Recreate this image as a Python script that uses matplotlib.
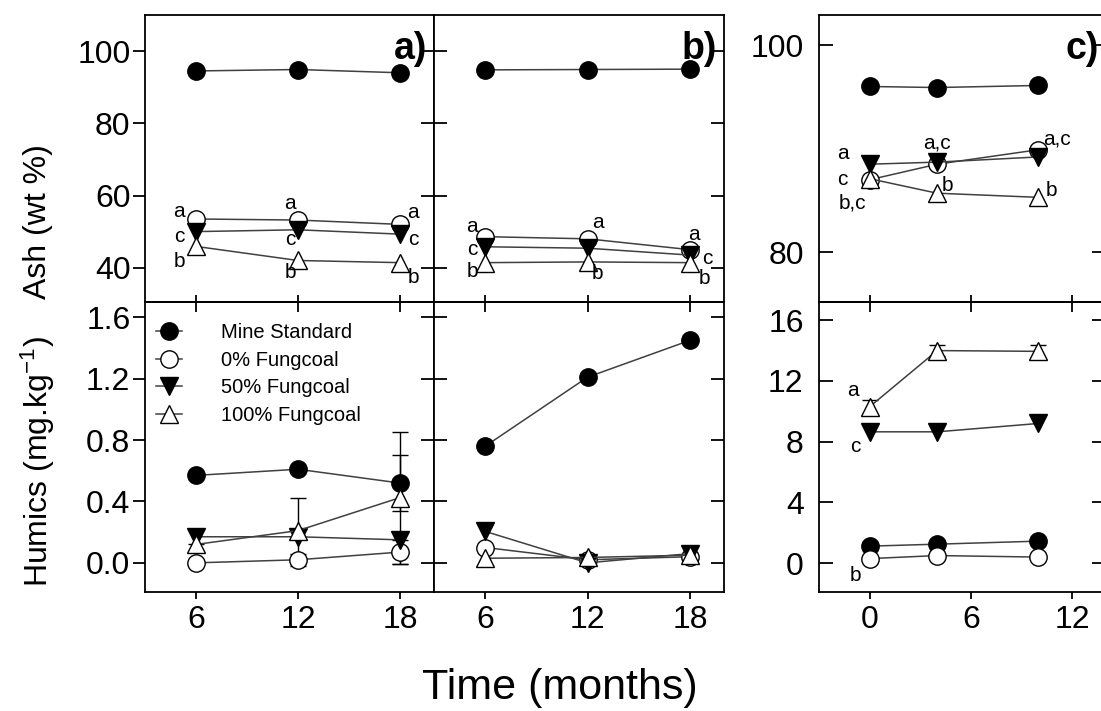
import matplotlib
matplotlib.use('Agg')
import matplotlib.pyplot as plt

plt.rcParams['font.family'] = ['Liberation Sans', 'DejaVu Sans']
plt.rcParams['mathtext.fontset'] = 'custom'
plt.rcParams['mathtext.rm'] = 'Liberation Sans'
plt.rcParams['mathtext.default'] = 'regular'

# series order: Mine Standard, 0%, 50%, 100% Fungcoal
series_names = ['Mine Standard', '0% Fungcoal', '50% Fungcoal', '100% Fungcoal']
time_ab = [6, 12, 18]
time_c = [0, 4, 10]

ash_a = [[94.5, 94.9, 94.0], [53.5, 53.2, 52.0], [50.0, 50.5, 49.3], [45.9, 42.0, 41.4]]
ash_b = [[94.8, 94.9, 95.0], [48.6, 48.0, 45.0], [45.8, 45.4, 43.5], [41.4, 41.6, 41.4]]
ash_c = [[96.0, 95.9, 96.1], [87.0, 88.5, 89.9], [88.5, 88.7, 89.2], [87.1, 85.7, 85.3]]

humics_a = [[0.57, 0.61, 0.52], [0.0, 0.02, 0.07], [0.17, 0.17, 0.15], [0.12, 0.21, 0.425]]
humics_a_err = [[0, 0, 0.18], [0.02, 0.04, 0.08], [0.045, 0, 0], [0, 0.21, 0.43]]
humics_b = [[0.76, 1.21, 1.45], [0.10, 0.02, 0.04], [0.205, 0.0, 0.06], [0.03, 0.035, 0.05]]
humics_c = [[1.12, 1.25, 1.45], [0.3, 0.5, 0.4], [8.65, 8.65, 9.2], [10.3, 14.0, 13.95]]
humics_c_err = [[0, 0, 0], [0, 0, 0], [0, 0, 0], [0.45, 0.35, 0.45]]

# significance letters: (series, point, text)
letters_ash_a = [(1, 0, 'a'), (2, 0, 'c'), (3, 0, 'b'), (1, 1, 'a'), (2, 1, 'c'), (3, 1, 'b'),
                 (1, 2, 'a'), (2, 2, 'c'), (3, 2, 'b')]
letters_ash_b = [(1, 0, 'a'), (2, 0, 'c'), (3, 0, 'b'), (1, 1, 'a'), (3, 1, 'b'),
                 (1, 2, 'a'), (2, 2, 'c'), (3, 2, 'b')]
letters_ash_c = [(2, 0, 'a'), (1, 0, 'c'), (3, 0, 'b,c'), (2, 1, 'a,c'), (3, 1, 'b'),
                 (1, 2, 'a,c'), (3, 2, 'b')]
letters_hum_c = [(3, 0, 'a'), (2, 0, 'c'), (1, 0, 'b')]

# pixel offsets of the letters from their points
offs_ash_a = [(-17, 7), (-17, -5), (-17, -15), (-8, 17), (-8, -10), (-8, -12), (13, 12), (13, -5), (13, -15)]
offs_ash_b = [(-13, 10), (-13, -3), (-13, -9), (10, 16), (10, -12), (4, 15), (17, -3), (15, -16)]
offs_ash_c = [(-27, 11), (-27, 0), (-17, -24), (0, 19), (10, 8), (18, 11), (13, 7)]
offs_hum_c = [(-17, 16), (-14, -15), (-14, -17)]

markers = ['o', 'o', 'v', '^']
fills = ['black', 'white', 'black', 'white']
sizes = [12.5, 12.5, 12.5, 12.5]

fig = plt.figure(figsize=(11.01, 7.11), dpi=100)
W, H = 1101.0, 711.0

def box(x0, x1, y0, y1):
    return [x0 / W, 1 - y1 / H, (x1 - x0) / W, (y1 - y0) / H]

ax_at = fig.add_axes(box(145, 434, 15, 302))
ax_bt = fig.add_axes(box(434, 724, 15, 302))
ax_ct = fig.add_axes(box(819, 1106, 15, 302))
ax_ab = fig.add_axes(box(145, 434, 302, 592))
ax_bb = fig.add_axes(box(434, 724, 302, 592))
ax_cb = fig.add_axes(box(819, 1106, 302, 592))


def draw(ax, x, ys, errs=None):
    for i, y in enumerate(ys):
        if errs is not None:
            xs = [x[k] for k in range(len(x)) if errs[i][k] > 0]
            yv = [y[k] for k in range(len(x)) if errs[i][k] > 0]
            ev = [errs[i][k] for k in range(len(x)) if errs[i][k] > 0]
            if xs:
                ax.errorbar(xs, yv, yerr=ev, fmt='none', ecolor='black', elinewidth=1,
                            capsize=6, capthick=1, zorder=1)
        ax.plot(x, y, color='#404040', lw=1.1, marker=markers[i], ms=sizes[i],
                mfc=fills[i], mec='black', mew=1, label=series_names[i], zorder=2 + i)


def put_letters(ax, x, ys, letters, offs):
    for (s, p, t), (dx, dy) in zip(letters, offs):
        ax.annotate(t, (x[p], ys[s][p]), xytext=(dx, dy), textcoords='offset pixels',
                    ha='center', va='center', fontsize=15, zorder=10)


draw(ax_at, time_ab, ash_a)
draw(ax_bt, time_ab, ash_b)
draw(ax_ct, time_c, ash_c)
draw(ax_ab, time_ab, humics_a, humics_a_err)
draw(ax_bb, time_ab, humics_b)
draw(ax_cb, time_c, humics_c, humics_c_err)

put_letters(ax_at, time_ab, ash_a, letters_ash_a, offs_ash_a)
put_letters(ax_bt, time_ab, ash_b, letters_ash_b, offs_ash_b)
put_letters(ax_ct, time_c, ash_c, letters_ash_c, offs_ash_c)
put_letters(ax_cb, time_c, humics_c, letters_hum_c, offs_hum_c)

for ax in [ax_at, ax_bt, ax_ab, ax_bb]:
    ax.set_xlim(3, 20)
    ax.set_xticks(time_ab)
for ax in [ax_ct, ax_cb]:
    ax.set_xlim(-3, 14)
    ax.set_xticks([0, 6, 12])
for ax in [ax_at, ax_bt]:
    ax.set_ylim(30.5, 110)
    ax.set_yticks([40, 60, 80, 100])
for ax in [ax_ab, ax_bb]:
    ax.set_ylim(-0.19, 1.70)
    ax.set_yticks([0.0, 0.4, 0.8, 1.2, 1.6])
    ax.set_yticklabels(['0.0', '0.4', '0.8', '1.2', '1.6'])
ax_ct.set_ylim(75.2, 102.9)
ax_ct.set_yticks([80, 100])
ax_cb.set_ylim(-1.9, 17.2)
ax_cb.set_yticks([0, 4, 8, 12, 16])

for ax in fig.axes:
    for sp in ax.spines.values():
        sp.set_linewidth(1.3)
    ax.tick_params(labelsize=23, width=1.3)

# top row: short inward ticks at the bottom only, no x labels
for ax in [ax_at, ax_bt, ax_ct]:
    ax.tick_params(axis='x', direction='in', length=5, labelbottom=False, top=False)
# bottom row: outward bottom ticks, inward top ticks
for ax in [ax_ab, ax_bb, ax_cb]:
    ax.tick_params(axis='x', direction='out', length=5, pad=4)
    sec = ax.secondary_xaxis('top')
    sec.set_xticks(ax.get_xticks())
    sec.tick_params(direction='in', length=7, width=1.3, labeltop=False)
    sec.spines['top'].set_linewidth(1.3)

# panel a: outward left ticks with labels, inward right ticks
for ax in [ax_at, ax_ab]:
    ax.tick_params(axis='y', direction='out', length=8.5, pad=2, right=False)
    sec = ax.secondary_yaxis('right')
    sec.set_yticks(ax.get_yticks())
    sec.tick_params(direction='in', length=9.5, width=1.3, labelright=False)
    sec.spines['right'].set_linewidth(1.3)
for ax in [ax_bt, ax_bb]:
    ax.tick_params(axis='y', direction='in', length=9.5, left=True, right=True, labelleft=False)
for ax in [ax_ct, ax_cb]:
    ax.tick_params(axis='y', direction='in', length=10, left=True, right=True, pad=11)

for ax, lab in [(ax_at, 'a)'), (ax_bt, 'b)'), (ax_ct, 'c)')]:
    ax.text(0.975, 0.945, lab, transform=ax.transAxes, ha='right', va='top',
            fontsize=27, fontweight='bold')

ax_ab.legend(loc='upper left', bbox_to_anchor=(-0.01, 0.975), frameon=False, fontsize=14.5,
             handlelength=1.3, handletextpad=1.9, labelspacing=0.42, borderaxespad=0.3)

fig.text(38 / W, 1 - 222 / H, 'Ash (wt %)', rotation=90, ha='center', va='center', fontsize=23)
fig.text(38 / W, 1 - 462 / H, 'Humics (mg.kg$^{-1}$)', rotation=90, ha='center', va='center',
         fontsize=23)
fig.text(560 / W, 1 - 688 / H, 'Time (months)', ha='center', va='center', fontsize=31)

fig.savefig('out.png', dpi=100)
